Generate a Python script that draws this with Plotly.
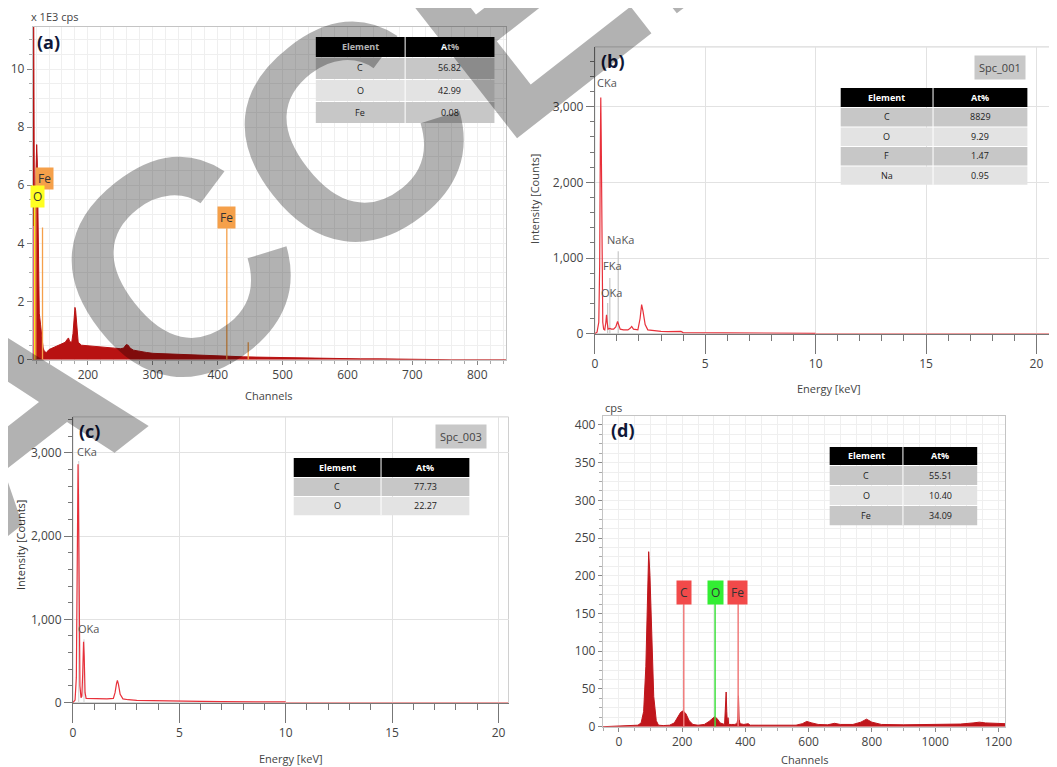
import plotly.graph_objects as go

# The photographed page comes out very slightly scaled, so reference pixels are
# mapped back through that measured scale before becoming paper fractions.
S, OX, OY, M = 0.987, 3.4, 1.3, 8
FW, FH = 1062, 770
def px(x): return ((x - OX) / S - M) / FW
def py(y): return 1 - ((y - OY) / S - M) / FH

# ---------------- data ----------------
# (a) spectrum: channel vs x1E3 cps
a_ch = [115, 116.5, 117.5, 119, 120, 121, 122, 123.5, 125, 127, 129, 131, 133, 136, 140, 145, 150, 155,
        160, 165, 168, 170, 172, 175, 177, 179, 180, 181, 183, 185, 190, 200, 210, 220, 230, 240, 250,
        255, 259, 262, 265, 270, 280, 290, 300, 320, 340, 360, 380, 400, 420, 440, 460, 480, 500, 520,
        540, 560, 580, 600, 620, 650, 680, 720, 760, 845]
a_cps = [11.6, 11.6, 4.8, 4.5, 6.5, 7.4, 6.8, 3.0, 1.6, 1.2, 0.8, 0.4, 0.28, 0.25, 0.35, 0.4, 0.45, 0.5,
         0.55, 0.6, 0.7, 0.75, 0.62, 0.6, 0.9, 1.6, 1.8, 1.7, 1.0, 0.6, 0.5, 0.48, 0.47, 0.45, 0.44, 0.42, 0.38,
         0.4, 0.52, 0.5, 0.4, 0.33, 0.28, 0.25, 0.22, 0.2, 0.18, 0.16, 0.14, 0.12, 0.11, 0.1, 0.09, 0.08, 0.07, 0.06,
         0.06, 0.05, 0.04, 0.04, 0.03, 0.03, 0.02, 0.01, 0.0, 0.0]
a_line_pos = [115.5, 117.5, 119.6, 130, 414, 447]
a_line_top = [4.6, 5.3, 5.9, 4.55, 4.52, 0.6]
a_line_col = ["#ff33cc", "#eeee22", "#f5a04a", "#f5a04a", "#f5a04a", "#f5a04a"]
a_tag_text = ["Fe", "O", "Fe"]
a_tag_x = [132.7, 121.5, 413.5]
a_tag_y = [6.24, 5.62, 4.9]
a_tag_col = ["#f5a04a", "#ffff22", "#f5a04a"]
a_ctag_x, a_ctag_y, a_ctag_col = 114.5, 4.92, "#ff33cc"
a_elem = ["C", "O", "Fe"]
a_at = ["56.82", "42.99", "0.08"]

# (b) spectrum: keV vs counts
b_kev = [0, 0.1, 0.18, 0.22, 0.25, 0.27, 0.29, 0.32, 0.36, 0.4, 0.45, 0.5, 0.53, 0.56, 0.6, 0.68, 0.75, 0.85,
         0.95, 1.03, 1.07, 1.15, 1.3, 1.5, 1.6, 1.67, 1.75, 1.85, 1.95, 2.05, 2.12, 2.18, 2.28, 2.4, 2.6,
         2.8, 3.0, 3.3, 3.6, 3.9, 4.0, 5, 6, 7, 8, 9, 10]
b_cnt = [0, 20, 150, 900, 2500, 3120, 2600, 800, 150, 60, 50, 150, 250, 150, 60, 70, 60, 60,
         90, 160, 130, 60, 50, 50, 70, 95, 60, 50, 50, 200, 383, 300, 120, 50, 40,
         35, 30, 28, 25, 30, 15, 12, 10, 8, 8, 6, 5]
b_tail_kev = [10, 21.1]
b_tail_cnt = [0, 0]
b_mark_kev = [0.58, 0.68, 1.06]
b_mark_top = [405, 735, 1088]
b_lab_text = ["CKa", "NaKa", "FKa", "OKa"]
b_lab_kev = [0.02, 0.45, 0.26, 0.18]
b_lab_cnt = [3320, 1250, 900, 550]
b_elem = ["C", "O", "F", "Na"]
b_at = ["8829", "9.29", "1.47", "0.95"]

# (c) spectrum
c_kev = [0, 0.1, 0.16, 0.2, 0.22, 0.24, 0.26, 0.29, 0.33, 0.38, 0.42, 0.46, 0.5, 0.53, 0.57, 0.62, 0.8,
         1.0, 1.3, 1.6, 1.9, 1.98, 2.05, 2.09, 2.14, 2.22, 2.35, 2.6, 3.0, 3.5, 4.0, 5, 6, 7, 8, 9, 10]
c_cnt = [0, 30, 300, 1800, 2700, 2860, 2500, 900, 200, 60, 80, 350, 732, 550, 120, 50, 48,
         45, 50, 45, 50, 120, 230, 268, 220, 100, 45, 35, 28, 25, 20, 15, 14, 12, 12, 10, 8]
c_tail_kev = [10, 20.47]
c_tail_cnt = [0, 0]
c_mark_kev = [0.27, 0.52]
c_mark_top = [2900, 760]
c_lab_text = ["CKa", "OKa"]
c_lab_kev = [0.12, 0.15]
c_lab_cnt = [3020, 890]
c_elem = ["C", "O"]
c_at = ["77.73", "22.27"]

# (d) spectrum: channel vs cps
d_ch = [-51, 0, 40, 60, 70, 78, 85, 90, 94, 98, 104, 110, 118, 125, 140, 160, 175, 185, 195, 203, 212,
        222, 234, 250, 270, 285, 295, 302, 310, 320, 334, 337, 339, 341, 343, 345, 347, 355, 365, 373,
        376, 378, 380, 383, 395, 409, 415, 440, 500, 560, 580, 594, 610, 630, 660, 682, 700, 740, 765,
        783, 800, 830, 900, 1000, 1080, 1120, 1140, 1160, 1222]
d_cps = [0, 0.5, 1, 2, 5, 20, 80, 180, 232, 200, 110, 40, 8, 2, 1.5, 2, 5, 12, 19, 21, 17,
         8, 3, 2, 3, 7, 11, 13, 11, 5, 3, 25, 46, 20, 3, 12, 3, 3, 3, 4,
         10, 41, 10, 4, 3, 4, 2, 2, 2, 2, 4, 7, 5, 3, 2.5, 4.5, 3, 3, 6,
         10, 6, 3, 2.5, 3, 3.5, 5, 6, 5, 4]
d_line_pos = [205, 304, 377]
d_line_top = [163, 163, 163]
d_line_col = ["#f07c7c", "#3fe03f", "#f07c7c"]
d_tag_text = ["C", "O", "Fe"]
d_tag_x = [206, 304, 375]
d_tag_y = [178, 178, 178]
d_tag_col = ["#f24a4a", "#33ee33", "#f24a4a"]
d_elem = ["C", "O", "Fe"]
d_at = ["55.51", "10.40", "34.09"]

# ---------------- figure ----------------
fig = go.Figure()
FONT = "Open Sans"
TICKC = "#444444"
GRID_FINE = "#efefef"

# (a)
fig.add_trace(go.Scatter(x=a_ch, y=a_cps, mode="lines", fill="tozeroy",
                         line=dict(color="#b81212", width=1), fillcolor="#b81212",
                         xaxis="x", yaxis="y", showlegend=False))
for p, t, c in zip(a_line_pos, a_line_top, a_line_col):
    fig.add_trace(go.Scatter(x=[p, p], y=[0, t], mode="lines", line=dict(color=c, width=1.3),
                             xaxis="x", yaxis="y", showlegend=False))

# (b)
for p, t in zip(b_mark_kev, b_mark_top):
    fig.add_trace(go.Scatter(x=[p, p], y=[0, t], mode="lines", line=dict(color="#c8c8c8", width=1.2),
                             xaxis="x2", yaxis="y2", showlegend=False))
fig.add_trace(go.Scatter(x=b_kev, y=b_cnt, mode="lines", line=dict(color="#e8303a", width=1.2),
                         xaxis="x2", yaxis="y2", showlegend=False))
fig.add_trace(go.Scatter(x=b_tail_kev, y=b_tail_cnt, mode="lines", line=dict(color="#f08a8a", width=1.5),
                         xaxis="x2", yaxis="y2", showlegend=False))

# (c)
for p, t in zip(c_mark_kev, c_mark_top):
    fig.add_trace(go.Scatter(x=[p, p], y=[0, t], mode="lines", line=dict(color="#d8d8d8", width=1.2),
                             xaxis="x3", yaxis="y3", showlegend=False))
fig.add_trace(go.Scatter(x=c_kev, y=c_cnt, mode="lines", line=dict(color="#e8303a", width=1.2),
                         xaxis="x3", yaxis="y3", showlegend=False))
fig.add_trace(go.Scatter(x=c_tail_kev, y=c_tail_cnt, mode="lines", line=dict(color="#f08a8a", width=1.5),
                         xaxis="x3", yaxis="y3", showlegend=False))

# (d)
fig.add_trace(go.Scatter(x=d_ch, y=d_cps, mode="lines", fill="tozeroy",
                         line=dict(color="#c0161c", width=1), fillcolor="#c0161c",
                         xaxis="x4", yaxis="y4", showlegend=False))
for p, t, c in zip(d_line_pos, d_line_top, d_line_col):
    fig.add_trace(go.Scatter(x=[p, p], y=[0, t], mode="lines", line=dict(color=c, width=1.5),
                             xaxis="x4", yaxis="y4", showlegend=False))

tickfont = dict(family=FONT, size=12, color=TICKC)
box_ax = dict(showline=True, mirror=True, linecolor="#c4c4c4", linewidth=1, zeroline=False,
              tickfont=tickfont, ticks="outside", tickcolor="#888888", fixedrange=True)
open_x = dict(showgrid=True, gridcolor="#e2e2e2", showline=True, linecolor="#777777", zeroline=False,
              ticks="outside", ticklen=19, tickcolor="#777777", tickfont=tickfont,
              minor=dict(dtick=1, ticks="outside", ticklen=6, tickcolor="#777777", showgrid=False),
              fixedrange=True)
open_y = dict(showgrid=True, gridcolor="#e2e2e2", showline=True, linecolor="#777777", zeroline=False,
              ticks="outside", ticklen=8, tickcolor="#777777", tickfont=tickfont, tickformat=",",
              minor=dict(dtick=200, ticks="outside", ticklen=4, tickcolor="#777777", showgrid=False),
              fixedrange=True)

layout = dict(
    width=FW, height=FH, margin=dict(l=0, r=0, t=0, b=0),
    paper_bgcolor="white", plot_bgcolor="white", showlegend=False,
    xaxis=dict(domain=[px(33), px(505)], anchor="y", range=[115, 845], dtick=100, tick0=0,
               showgrid=True, gridcolor=GRID_FINE, ticklen=4,
               minor=dict(dtick=20, showgrid=True, gridcolor=GRID_FINE, ticks="outside", ticklen=3, tickcolor="#aaaaaa"),
               **box_ax),
    yaxis=dict(domain=[py(360), py(28)], anchor="x", range=[0, 11.45], dtick=2,
               showgrid=True, gridcolor=GRID_FINE, ticklen=5,
               minor=dict(dtick=0.5, showgrid=True, gridcolor=GRID_FINE, ticks="outside", ticklen=3, tickcolor="#aaaaaa"),
               **box_ax),
    xaxis2=dict(domain=[px(593), px(1057)], anchor="y2", range=[0, 21.09], dtick=5, tick0=0, **open_x),
    yaxis2=dict(domain=[py(334), py(48)], anchor="x2", range=[0, 3790], dtick=1000, **open_y),
    xaxis3=dict(domain=[px(73), px(507)], anchor="y3", range=[0, 20.47], dtick=5, tick0=0, **open_x),
    yaxis3=dict(domain=[py(702), py(417)], anchor="x3", range=[0, 3430], dtick=1000, **open_y),
    xaxis4=dict(domain=[px(601), px(1002)], anchor="y4", range=[-51, 1222], dtick=200, tick0=0,
                showgrid=True, gridcolor=GRID_FINE, ticklen=4,
                minor=dict(dtick=50, showgrid=True, gridcolor=GRID_FINE, ticks="outside", ticklen=3, tickcolor="#aaaaaa"),
                **box_ax),
    yaxis4=dict(domain=[py(726), py(416)], anchor="x4", range=[0, 412], dtick=50,
                showgrid=True, gridcolor=GRID_FINE, ticklen=4,
                minor=dict(dtick=12.5, showgrid=True, gridcolor=GRID_FINE, ticks="outside", ticklen=3, tickcolor="#aaaaaa"),
                **box_ax),
)
fig.update_layout(**layout)

shapes = []
ann = []
def A(**k):
    ann.append(k)

for xr, yr in [("x2", "y2"), ("x3", "y3")]:
    shapes.append(dict(type="rect", xref=f"{xr} domain", yref=f"{yr} domain", x0=0, x1=1, y0=0, y1=1,
                       line=dict(color="#d0d0d0", width=1), layer="below"))

# tables (positions in reference pixels)
def table(elems, vals, x0, xs, x1, y0, hh, rh):
    light, dark = "#e3e3e3", "#c7c7c7"
    shapes.append(dict(type="rect", xref="paper", yref="paper", x0=px(x0), x1=px(x1),
                       y0=py(y0 + hh), y1=py(y0), fillcolor="black", line=dict(width=0)))
    hf = dict(family=FONT, size=9, color="white")
    A(text="<b>Element</b>", x=px((x0 + xs) / 2), y=py(y0 + hh / 2), xref="paper", yref="paper",
      showarrow=False, xanchor="center", yanchor="middle", font=hf)
    A(text="<b>At%</b>", x=px((xs + x1) / 2), y=py(y0 + hh / 2), xref="paper", yref="paper",
      showarrow=False, xanchor="center", yanchor="middle", font=hf)
    cf = dict(family=FONT, size=9, color="#222222")
    for i, (e, v) in enumerate(zip(elems, vals)):
        top = y0 + hh + i * rh
        shapes.append(dict(type="rect", xref="paper", yref="paper", x0=px(x0), x1=px(x1),
                           y0=py(top + rh), y1=py(top + 1), fillcolor=dark if i % 2 == 0 else light,
                           line=dict(width=0)))
        A(text=e, x=px((x0 + xs) / 2), y=py(top + rh / 2), xref="paper", yref="paper",
          showarrow=False, xanchor="center", yanchor="middle", font=cf)
        A(text=v, x=px((xs + x1) / 2), y=py(top + rh / 2), xref="paper", yref="paper",
          showarrow=False, xanchor="center", yanchor="middle", font=cf)
    shapes.append(dict(type="line", xref="paper", yref="paper", x0=px(xs), x1=px(xs),
                       y0=py(y0 + hh + len(elems) * rh), y1=py(y0), line=dict(color="white", width=1)))

table(a_elem, a_at, 315, 404, 493, 38, 20, 22)
table(b_elem, b_at, 838, 930, 1024, 89, 19, 19.4)
table(c_elem, c_at, 293, 380, 468, 458, 19, 19)
table(d_elem, d_at, 827, 900, 974, 447, 18, 20)
fig.update_layout(shapes=shapes)

# element tags
A(text="C", x=a_ctag_x, y=a_ctag_y, xref="x", yref="y", showarrow=False, bgcolor=a_ctag_col,
  xanchor="center", yanchor="middle", width=7, height=17,
  font=dict(family=FONT, size=12, color="#ff33cc"))
for t, x, y, c in zip(a_tag_text, a_tag_x, a_tag_y, a_tag_col):
    A(text=t, x=x, y=y, xref="x", yref="y", showarrow=False, bgcolor=c, xanchor="center", yanchor="middle",
      font=dict(family=FONT, size=12, color="#333333"), borderpad=2)
for t, x, y, c in zip(d_tag_text, d_tag_x, d_tag_y, d_tag_col):
    A(text=t, x=x, y=y, xref="x4", yref="y4", showarrow=False, bgcolor=c, xanchor="center", yanchor="middle",
      font=dict(family=FONT, size=12, color="#333333"), borderpad=3)
for t, x, y in zip(b_lab_text, b_lab_kev, b_lab_cnt):
    A(text=t, x=x, y=y, xref="x2", yref="y2", showarrow=False, xanchor="left", yanchor="middle",
      font=dict(family=FONT, size=11, color="#555555"))
for t, x, y in zip(c_lab_text, c_lab_kev, c_lab_cnt):
    A(text=t, x=x, y=y, xref="x3", yref="y3", showarrow=False, xanchor="left", yanchor="middle",
      font=dict(family=FONT, size=11, color="#555555"))

def P(text, x, y, font, xanchor="center", **k):
    A(text=text, x=px(x), y=py(y), xref="paper", yref="paper", showarrow=False,
      xanchor=xanchor, yanchor="middle", font=font, **k)

# panel letters
lab = dict(family=FONT, size=18, color="#101838")
P("<b>(a)</b>", 35, 43, lab, "left")
P("<b>(b)</b>", 597, 62, lab, "left")
P("<b>(c)</b>", 77, 431, lab, "left")
P("<b>(d)</b>", 607, 430, lab, "left")

# spectrum IDs
idf = dict(family=FONT, size=11, color="#444444")
P("Spc_001", 997, 69, idf, bgcolor="#c8c8c8", borderpad=4)
P("Spc_003", 460, 437, idf, bgcolor="#c8c8c8", borderpad=4)

# axis titles
tt = dict(family=FONT, size=11, color="#444444")
P("x 1E3 cps", 29, 18, tt, "left")
P("Channels", 268, 396, tt)
P("Energy [keV]", 826, 389, tt)
P("Intensity [Counts]", 533, 200, tt, textangle=-90)
P("Energy [keV]", 290, 758, tt)
P("Intensity [Counts]", 20, 545, dict(family=FONT, size=11, color="#333333"), textangle=-90)
P("cps", 612, 408, tt)
P("Channels", 802, 759, tt)

# watermark
P("<b>ACCEPTED</b>", 574, -40, dict(family="Liberation Sans", size=304, color="rgba(0,0,0,0.3)"),
  textangle=-38)

fig.update_layout(annotations=ann)
fig.write_html("out.html", config={"displayModeBar": False})
